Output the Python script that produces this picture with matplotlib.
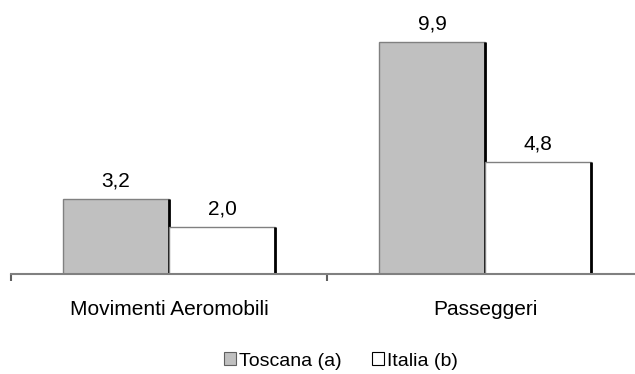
import numpy as np
import matplotlib
matplotlib.use('Agg')
import matplotlib.pyplot as plt
from matplotlib.patches import Patch

plt.rcParams['font.family'] = ['Liberation Sans', 'DejaVu Sans']

categories = ['Movimenti Aeromobili', 'Passeggeri']
toscana = [3.2, 9.9]
italia = [2.0, 4.8]
labels_toscana = ['3,2', '9,9']
labels_italia = ['2,0', '4,8']
series_names = ['Toscana (a)', 'Italia (b)']

W, H = 635, 374
fig = plt.figure(figsize=(W/100, H/100), dpi=100)
# axes: left 11px, baseline at 274px, extends a bit past the right edge
ax_left = 11
cat_w = 316.0
ax_w = cat_w*2
ax_top = 10
ax_bot = 274
ax = fig.add_axes([ax_left/W, (H-ax_bot)/H, ax_w/W, (ax_bot-ax_top)/H])
scale = (274-42)/9.9
ax.set_ylim(0, (ax_bot-ax_top)/scale)
ax.set_xlim(-0.5, 1.5)

bw = 106/cat_w
x = np.arange(len(categories))
fs = 15

b1 = ax.bar(x - bw/2, toscana, bw, color='#c0c0c0', edgecolor='#808080', lw=1, zorder=2)
ax.vlines(x, 0, toscana, color='black', lw=2, zorder=2.5)
b2 = ax.bar(x + bw/2, italia, bw, color='white', edgecolor='#808080', lw=1, zorder=3)
ax.vlines(x + bw, 0, italia, color='black', lw=2, zorder=3.5)

for xi, v, s in zip(x - bw/2, toscana, labels_toscana):
    ax.annotate(s, (xi, v), xytext=(0, 6), textcoords='offset points', ha='center', va='bottom', fontsize=fs)
for xi, v, s in zip(x + bw/2, italia, labels_italia):
    ax.annotate(s, (xi, v), xytext=(0, 6), textcoords='offset points', ha='center', va='bottom', fontsize=fs)

for sp in ['top', 'right', 'left']:
    ax.spines[sp].set_visible(False)
ax.spines['bottom'].set_color('#808080')
ax.spines['bottom'].set_linewidth(1.5)
ax.spines['bottom'].set_zorder(4)
ax.set_yticks([])
ax.set_xticks([-0.5, 0.5, 1.5])
ax.set_xticklabels([])
ax.tick_params(axis='x', length=5, width=1.5, color='#606060', direction='out')
for xi, c in zip(x, categories):
    ax.annotate(c, (xi, 0), xytext=(0, -19), textcoords='offset points', ha='center', va='top', fontsize=fs)

handles = [Patch(facecolor='#c0c0c0', edgecolor='#606060', lw=0.8),
           Patch(facecolor='white', edgecolor='black', lw=0.8)]
fig.legend(handles, series_names, loc='center', bbox_to_anchor=(341/W, 1-361/H),
           ncol=2, frameon=False, fontsize=14, handlelength=0.6, handleheight=0.6,
           handletextpad=0.15, columnspacing=1.6)

fig.savefig('out.png', dpi=100)
